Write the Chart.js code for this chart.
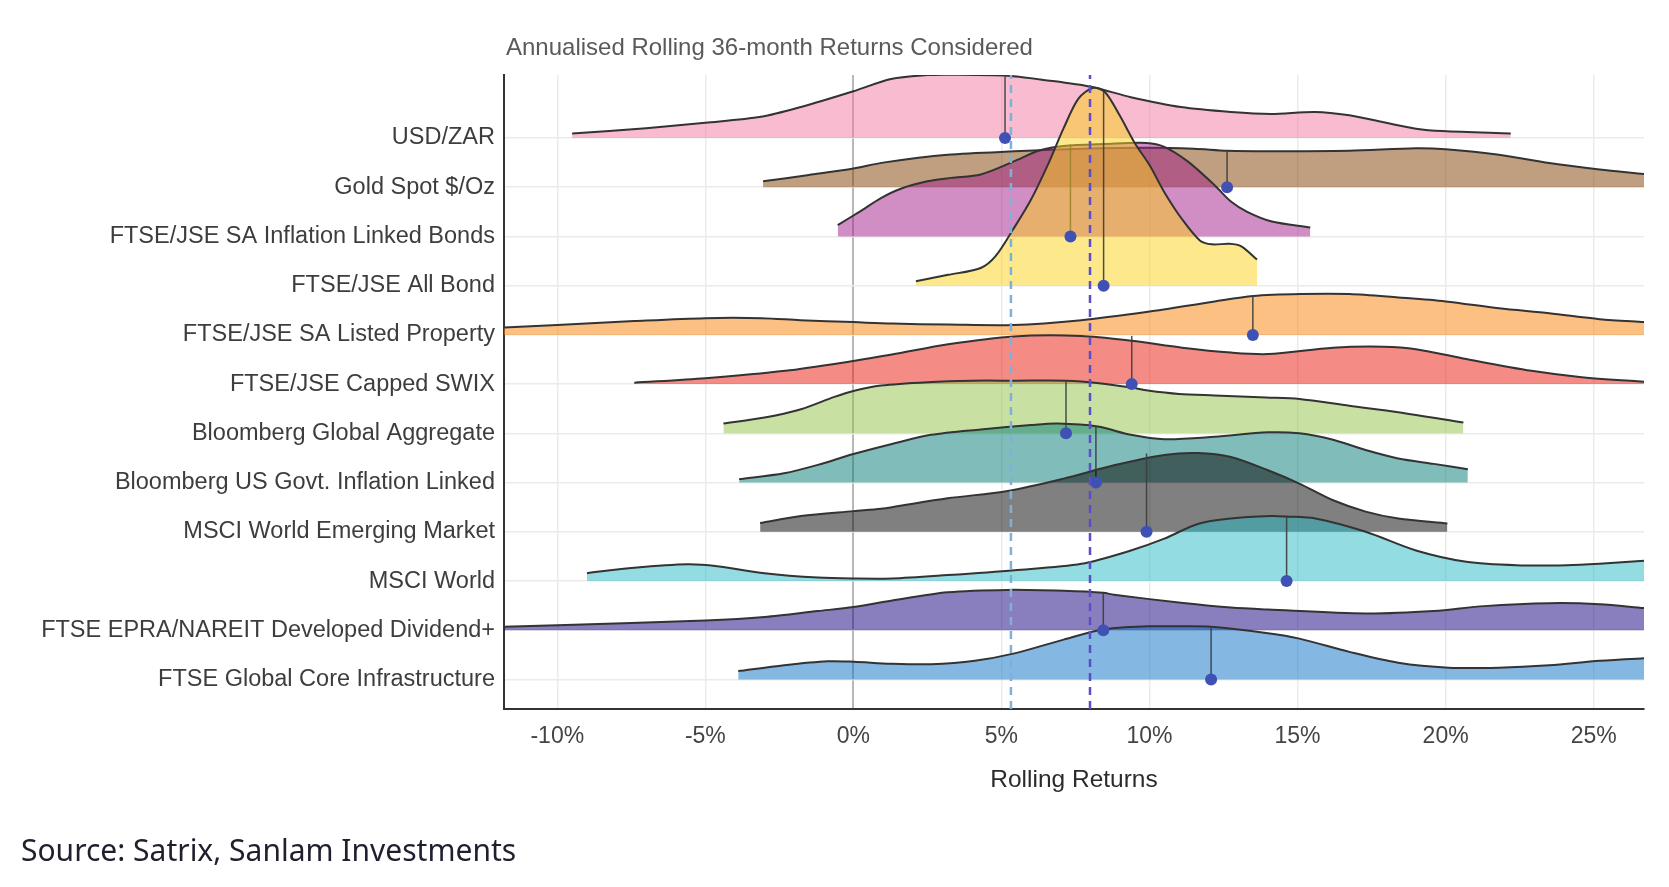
<!DOCTYPE html>
<html>
<head>
<meta charset="utf-8">
<script src="https://cdn.jsdelivr.net/npm/chart.js"></script>
<style>
  html, body { margin: 0; padding: 0; background: #ffffff; }
  #wrap { position: relative; width: 1669px; height: 887px; overflow: hidden; }
  #chart { position: absolute; left: 0; top: 0; }
  #title { position: absolute; left: 506px; top: 35px; font: 24px "Liberation Sans", Arial, sans-serif; line-height: 24px; color: #5a5a5a; white-space: nowrap; }
  #source { position: absolute; left: 21px; top: 835px; font: 30px "Noto Sans", sans-serif; line-height: 30px; color: #1f1f2e; white-space: nowrap; }
</style>
</head>
<body>
<div id="wrap">
  <canvas id="chart" width="1669" height="887"></canvas>
  <div id="title">Annualised Rolling 36-month Returns Considered</div>
  <div id="source">Source: Satrix, Sanlam Investments</div>
</div>
<script>
// ---- Data ----
const categories = [
  "USD/ZAR",
  "Gold Spot $/Oz",
  "FTSE/JSE SA Inflation Linked Bonds",
  "FTSE/JSE All Bond",
  "FTSE/JSE SA Listed Property",
  "FTSE/JSE Capped SWIX",
  "Bloomberg Global Aggregate",
  "Bloomberg US Govt. Inflation Linked",
  "MSCI World Emerging Market",
  "MSCI World",
  "FTSE EPRA/NAREIT Developed Dividend+",
  "FTSE Global Core Infrastructure"
];

// density curves: [return %, ridge height in row units]
const usdZar = [[-9.5,0.09],[-7,0.2],[-5,0.31],[-3.12,0.43],[-1.77,0.63],[0,0.95],[1.27,1.2],[2.5,1.28],[3.2,1.29],[5.1,1.27],[6.56,1.17],[8.02,1.04],[9.37,0.83],[11.06,0.63],[12.75,0.53],[14.1,0.49],[15.6,0.53],[16.75,0.46],[17.9,0.32],[19.0,0.19],[19.9,0.14],[22.2,0.09]];
const goldSpot = [[-3.05,0.12],[-1.5,0.25],[0,0.38],[1,0.5],[3.18,0.66],[5.44,0.73],[7.7,0.78],[9.95,0.8],[11.5,0.78],[12.62,0.74],[14,0.73],[16.75,0.74],[19,0.79],[20,0.77],[21.8,0.66],[23.5,0.49],[25.2,0.36],[26.7,0.27],[27.5,0.22]];
const inflationLinkedBonds = [[-0.53,0.23],[0.2,0.5],[0.93,0.78],[1.6,0.97],[2.5,1.12],[3.3,1.19],[4.3,1.26],[5.4,1.52],[6.3,1.75],[7.1,1.84],[8.5,1.88],[9.9,1.9],[10.5,1.82],[11.3,1.52],[12.2,1.04],[12.75,0.71],[13.3,0.5],[14.1,0.31],[15.43,0.18]];
const allBond = [[2.11,0.09],[3.2,0.22],[4.3,0.36],[4.8,0.6],[5.4,1.15],[6.0,1.75],[6.6,2.5],[7.1,3.2],[7.6,3.8],[8.1,4.02],[8.5,3.93],[9.0,3.45],[9.5,2.9],[10.0,2.45],[10.5,1.9],[11.1,1.35],[11.7,0.92],[12.1,0.84],[12.7,0.85],[13.1,0.8],[13.63,0.53]];
const listedProperty = [[-13,0.12],[-11.8,0.15],[-10,0.2],[-7.4,0.28],[-5,0.34],[-3.1,0.34],[-1.8,0.3],[0,0.26],[1.3,0.23],[3.2,0.21],[5.4,0.2],[7.7,0.3],[9.95,0.47],[12.2,0.68],[13.5,0.79],[15.1,0.83],[16.75,0.83],[18.4,0.76],[20,0.68],[21.8,0.54],[23.5,0.44],[25.2,0.32],[26.7,0.26],[27.5,0.23]];
const cappedSwix = [[-7.4,0.03],[-5,0.12],[-2.3,0.27],[0,0.47],[1.3,0.6],[3.2,0.81],[5.4,0.97],[7.7,0.98],[9.4,0.88],[11.1,0.74],[12.75,0.64],[14,0.61],[16.2,0.74],[17.9,0.76],[19,0.71],[20.7,0.51],[22.9,0.27],[24.6,0.14],[26.7,0.05],[27.3,0.04]];
const globalAggregate = [[-4.39,0.2],[-3,0.32],[-1.77,0.49],[-0.64,0.74],[0,0.86],[0.93,0.97],[2.5,1.04],[4,1.07],[5.5,1.07],[7.2,1.07],[8.3,1.02],[9.4,0.93],[9.94,0.87],[11,0.8],[12.2,0.77],[13.94,0.73],[15.06,0.7],[16.75,0.56],[18.4,0.43],[20.6,0.22]];
const usGovtInflationLinked = [[-3.86,0.07],[-2.34,0.19],[-1.2,0.36],[0,0.58],[1.27,0.78],[2.62,0.97],[4.3,1.08],[6,1.17],[6.9,1.2],[8.25,1.14],[9.37,0.97],[10.5,0.88],[12.2,0.93],[14,1.02],[15.06,1.0],[16.2,0.87],[17.3,0.66],[18.4,0.49],[19.6,0.38],[20.75,0.27]];
const emergingMarket = [[-3.15,0.18],[-1.77,0.32],[0,0.42],[0.93,0.47],[1.3,0.5],[3.18,0.68],[5.21,0.83],[7.1,1.08],[8.8,1.35],[10.5,1.56],[11.63,1.6],[12.75,1.52],[14,1.25],[15.06,0.98],[16.2,0.64],[17.3,0.41],[18.4,0.27],[20.06,0.17]];
const msciWorld = [[-9,0.16],[-7.4,0.27],[-5.6,0.34],[-4.6,0.3],[-3,0.16],[-1.2,0.07],[0,0.05],[1.3,0.05],[3.18,0.12],[5.44,0.22],[7.7,0.35],[9.37,0.62],[10.5,0.86],[11.63,1.16],[12.75,1.27],[14.1,1.32],[14.6,1.31],[15.6,1.27],[17.3,1.0],[19,0.62],[20.7,0.39],[22.4,0.32],[24.1,0.32],[25.2,0.35],[26.7,0.41],[27.5,0.43]];
const epraNareit = [[-13,0.05],[-11.8,0.07],[-10,0.1],[-5,0.2],[-3,0.27],[-1.2,0.39],[0,0.47],[1.27,0.6],[3.18,0.77],[5.2,0.82],[7.1,0.8],[8.44,0.76],[8.8,0.72],[11.06,0.56],[12.75,0.46],[14,0.42],[17.3,0.34],[19.6,0.39],[21.3,0.49],[23.5,0.55],[25.2,0.53],[26.7,0.45],[27.5,0.41]];
const coreInfrastructure = [[-3.89,0.17],[-2.34,0.29],[-0.87,0.37],[0,0.36],[1.27,0.32],[2.62,0.31],[4.1,0.38],[5.44,0.53],[7.1,0.81],[8.47,1.02],[9.94,1.08],[11.06,1.08],[12.07,1.07],[14,0.94],[15.06,0.83],[16.75,0.56],[18.4,0.34],[20.1,0.24],[21.8,0.24],[23.5,0.29],[25.2,0.38],[26.7,0.43],[27.5,0.45]];

const densities = [usdZar, goldSpot, inflationLinkedBonds, allBond, listedProperty, cappedSwix,
  globalAggregate, usGovtInflationLinked, emergingMarket, msciWorld, epraNareit, coreInfrastructure];

// medians (%) and height of the median line (row units)
const medians = [5.12, 12.62, 7.33, 8.45, 13.49, 9.4, 7.18, 8.19, 9.9, 14.63, 8.44, 12.08];
const medianHeights = [1.27, 0.74, 1.87, 3.93, 0.79, 0.98, 1.07, 1.15, 1.59, 1.31, 0.76, 1.07];

// reference dashed lines (%)
const refLow = 5.32;
const refHigh = 7.99;

const xTicks = [-10, -5, 0, 5, 10, 15, 20, 25];

// ---- Styles ----
const fillColors = [
  'rgba(241,119,161,0.5)', 'rgba(128,64,0,0.5)', 'rgba(163,29,137,0.5)', 'rgba(251,209,25,0.5)',
  'rgba(249,129,5,0.5)', 'rgba(235,23,11,0.5)', 'rgba(145,195,71,0.5)', 'rgba(1,123,117,0.5)',
  'rgba(1,1,1,0.5)', 'rgba(40,185,195,0.5)', 'rgba(19,0,125,0.5)', 'rgba(11,111,199,0.5)'
];

const nRows = categories.length;
const yMin = -0.6, yMax = 12.28;
const datasets = [];

categories.forEach((name, i) => {
  const base = nRows - 1 - i;
  datasets.push({
    label: name,
    data: densities[i].map(([x, h]) => ({ x: x, y: base + h })),
    fill: { value: base },
    backgroundColor: fillColors[i],
    borderColor: '#333333',
    borderWidth: 2,
    pointRadius: 0,
    tension: 0.3,
    order: 10 + base * 2
  });
  datasets.push({
    label: name + ' median line',
    data: [{ x: medians[i], y: base }, { x: medians[i], y: base + medianHeights[i] }],
    borderColor: 'rgba(60,60,60,0.9)',
    borderWidth: 1.5,
    pointRadius: 0,
    fill: false,
    order: 9 + base * 2
  });
});

datasets.push({
  label: 'medians',
  data: categories.map((c, i) => ({ x: medians[i], y: nRows - 1 - i })),
  showLine: false,
  pointRadius: 6,
  pointBackgroundColor: '#3F51B5',
  pointBorderWidth: 0,
  order: 2
});

datasets.push({
  label: 'ref low',
  data: [{ x: refLow, y: yMin }, { x: refLow, y: yMax }],
  borderColor: '#7fb0da',
  borderWidth: 2.5,
  borderDash: [8, 6],
  pointRadius: 0,
  fill: false,
  order: 1
});
datasets.push({
  label: 'ref high',
  data: [{ x: refHigh, y: yMin }, { x: refHigh, y: yMax }],
  borderColor: '#5a4ec6',
  borderWidth: 2.5,
  borderDash: [8, 6],
  pointRadius: 0,
  fill: false,
  order: 0
});

const tickFont = { family: '"Liberation Sans", Arial, sans-serif', size: 23.5 };

new Chart(document.getElementById('chart'), {
  type: 'line',
  data: { datasets: datasets },
  options: {
    responsive: false,
    animation: false,
    devicePixelRatio: 1,
    layout: { padding: { top: 75, right: 25, bottom: 0, left: 0 } },
    plugins: { legend: { display: false }, tooltip: { enabled: false }, title: { display: false } },
    scales: {
      x: {
        type: 'linear',
        min: -11.8,
        max: 26.7,
        afterBuildTicks: (scale) => { scale.ticks = xTicks.map(v => ({ value: v })); },
        afterFit: (scale) => { scale.height = 178; },
        ticks: {
          font: { family: tickFont.family, size: 23 },
          color: '#444444',
          padding: 14,
          maxRotation: 0,
          callback: (v) => v + '%'
        },
        grid: {
          drawTicks: false,
          color: (ctx) => (ctx.tick && ctx.tick.value === 0) ? '#b8b8b8' : '#ebebeb',
          lineWidth: (ctx) => (ctx.tick && ctx.tick.value === 0) ? 2 : 1.5
        },
        border: { display: true, color: '#333333', width: 2 },
        title: {
          display: true,
          text: 'Rolling Returns',
          color: '#2b2b2b',
          font: { family: tickFont.family, size: 24.5 },
          padding: { top: 0, bottom: 92 }
        }
      },
      y: {
        type: 'linear',
        min: yMin,
        max: yMax,
        afterBuildTicks: (scale) => { scale.ticks = categories.map((c, i) => ({ value: i })); },
        afterFit: (scale) => { scale.width = 504; },
        ticks: {
          font: tickFont,
          color: '#3d3d3d',
          padding: 9,
          callback: (v) => categories[nRows - 1 - v]
        },
        grid: { drawTicks: false, color: '#ebebeb', lineWidth: 1.5 },
        border: { display: true, color: '#333333', width: 2 }
      }
    }
  }
});
</script>
</body>
</html>
